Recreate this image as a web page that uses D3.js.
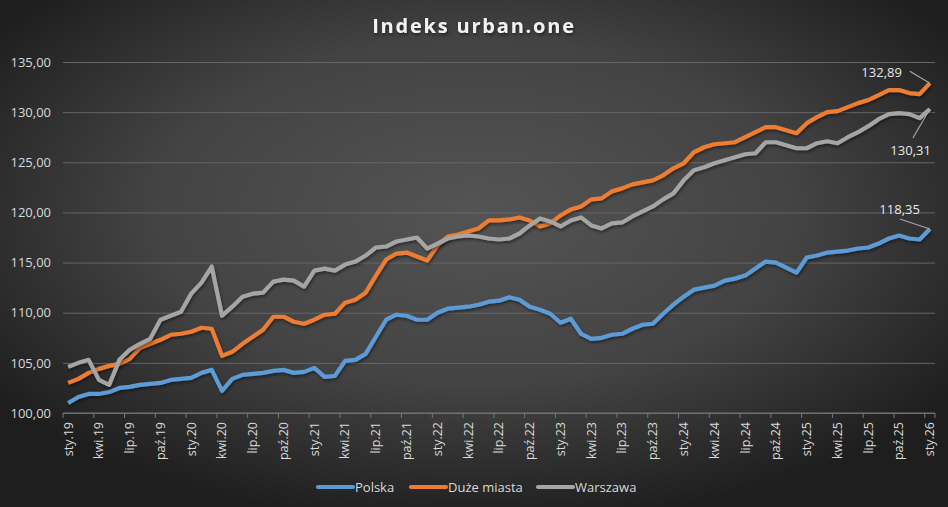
<!DOCTYPE html>
<html>
<head>
<meta charset="utf-8">
<script src="https://cdn.jsdelivr.net/npm/d3@7"></script>
<style>
  body { margin: 0; background: #2b2b2b; }
  text { font-family: "Open Sans", sans-serif; }
</style>
</head>
<body>
<div id="chart"></div>
<script>
// month abbreviations used for the category axis
const monthNames = ["sty","lut","mar","kwi","maj","cze","lip","sie","wrz","paź","lis","gru"];
const years = ["19","20","21","22","23","24","25","26"];

const polska = [101.0,101.6,101.9,101.9,102.1,102.5,102.6,102.8,102.9,103.0,
  103.3,103.4,103.5,104.0,104.3,102.2,103.4,103.8,103.9,104.0,
  104.2,104.3,104.0,104.1,104.5,103.6,103.7,105.2,105.3,105.9,
  107.6,109.3,109.8,109.7,109.3,109.3,110.0,110.4,110.5,110.6,
  110.8,111.1,111.2,111.55,111.3,110.6,110.3,109.9,109.0,109.4,
  107.9,107.4,107.5,107.8,107.9,108.4,108.8,108.9,109.9,110.8,
  111.6,112.3,112.5,112.7,113.2,113.4,113.7,114.4,115.1,115.0,
  114.5,114.0,115.5,115.7,116.0,116.1,116.2,116.4,116.5,116.9,
  117.4,117.7,117.4,117.3,118.35];

const duzeMiasta = [103.0,103.4,104.0,104.4,104.7,104.9,105.4,106.5,106.9,107.3,
  107.8,107.9,108.1,108.5,108.4,105.7,106.1,106.9,107.6,108.3,
  109.6,109.6,109.1,108.9,109.3,109.8,109.9,111.0,111.3,112.0,
  113.7,115.3,115.9,116.0,115.6,115.2,116.7,117.6,117.8,118.1,
  118.4,119.2,119.2,119.3,119.5,119.2,118.6,118.9,119.7,120.3,
  120.6,121.3,121.4,122.1,122.4,122.8,123.0,123.2,123.7,124.4,
  124.9,126.0,126.5,126.8,126.9,127.0,127.5,128.0,128.5,128.5,
  128.2,127.9,128.9,129.5,130.0,130.1,130.5,130.9,131.2,131.7,
  132.2,132.2,131.9,131.8,132.89];

const warszawa = [104.6,105.0,105.3,103.3,102.8,105.3,106.3,106.9,107.4,109.3,
  109.7,110.1,111.9,113.0,114.6,109.7,110.6,111.6,111.9,112.0,
  113.1,113.3,113.2,112.6,114.2,114.4,114.2,114.8,115.1,115.7,
  116.5,116.6,117.1,117.3,117.5,116.4,116.9,117.4,117.6,117.7,
  117.6,117.4,117.3,117.4,117.9,118.7,119.4,119.1,118.6,119.2,
  119.5,118.7,118.4,118.9,119.0,119.6,120.1,120.6,121.3,121.9,
  123.2,124.2,124.5,124.9,125.2,125.5,125.8,125.9,127.0,127.0,
  126.7,126.4,126.4,126.9,127.1,126.9,127.5,128.0,128.6,129.3,
  129.8,129.9,129.8,129.4,130.31];

const yTicks = [100,105,110,115,120,125,130,135];

// categories sty.19 ... sty.26
const categories = [];
years.forEach(y => monthNames.forEach(m => {
  if (categories.length < polska.length) categories.push(m + "." + y);
}));

const seriesList = [
  {name: "Polska", values: polska, color: "#5b9bd5", label: {dx: -10, dy: -20, lx: -30, ly: -10}},
  {name: "Duże miasta", values: duzeMiasta, color: "#ed7d31", label: {dx: -28, dy: -11, lx: -20, ly: -12}},
  {name: "Warszawa", values: warszawa, color: "#a5a5a5", label: {dx: 1, dy: 41, lx: -17, ly: 29}}
];

const W = 948, H = 507;
const margin = {top: 62, right: 13, bottom: 94, left: 63};

const svg = d3.select("#chart")
  .append("svg")
  .attr("width", W)
  .attr("height", H);

const defs = svg.append("defs");
const bg = defs.append("radialGradient")
  .attr("id", "bg")
  .attr("cx", "50%").attr("cy", "42%").attr("r", "62%");
bg.append("stop").attr("offset", "0%").attr("stop-color", "#545454");
bg.append("stop").attr("offset", "55%").attr("stop-color", "#434343");
bg.append("stop").attr("offset", "100%").attr("stop-color", "#1e1e1e");

const shadow = defs.append("filter").attr("id", "shadow")
  .attr("x", "-5%").attr("y", "-5%").attr("width", "110%").attr("height", "110%");
shadow.append("feDropShadow")
  .attr("dx", 1).attr("dy", 2).attr("stdDeviation", 1.5)
  .attr("flood-color", "#000").attr("flood-opacity", 0.45);

svg.append("rect")
  .attr("width", W).attr("height", H)
  .attr("fill", "url(#bg)");

// title
svg.append("text")
  .attr("x", W / 2)
  .attr("y", 33)
  .attr("text-anchor", "middle")
  .attr("fill", "#f2f2f2")
  .attr("font-size", 20)
  .attr("font-weight", "bold")
  .attr("letter-spacing", 1.8)
  .style("filter", "url(#shadow)")
  .text("Indeks urban.one");

const x = d3.scaleBand()
  .domain(categories)
  .range([margin.left, W - margin.right])
  .paddingInner(0).paddingOuter(0);

const y = d3.scaleLinear()
  .domain([100, 135])
  .range([H - margin.bottom, margin.top]);

const cx = c => x(c) + x.bandwidth() / 2;

// y axis with gridlines
svg.append("g")
  .attr("transform", `translate(${margin.left}, 0)`)
  .call(d3.axisLeft(y)
    .tickValues(yTicks)
    .tickSize(-(W - margin.left - margin.right))
    .tickPadding(12)
    .tickFormat(d => d3.format(".2f")(d).replace(".", ",")))
  .call(g => g.select(".domain").remove())
  .call(g => g.selectAll(".tick line").attr("stroke", "#666").attr("stroke-width", 1))
  .call(g => g.selectAll(".tick text")
    .attr("fill", "#d9d9d9")
    .attr("font-size", 13)
    .attr("font-family", "Open Sans, sans-serif"));

// x axis: labels every 3rd month, tick marks at band edges
const labelled = categories.filter((c, i) => i % 3 === 0);
const xAxis = svg.append("g")
  .attr("transform", `translate(0, ${y(100)})`);

xAxis.append("line")
  .attr("x1", margin.left).attr("x2", W - margin.right)
  .attr("stroke", "#777").attr("stroke-width", 1);

xAxis.selectAll(".tk")
  .data(labelled.map(c => x(c)).concat([W - margin.right]))
  .join("line")
  .attr("class", "tk")
  .attr("x1", d => d).attr("x2", d => d)
  .attr("y1", 0).attr("y2", 5)
  .attr("stroke", "#777");

xAxis.selectAll(".lbl")
  .data(labelled)
  .join("text")
  .attr("class", "lbl")
  .attr("transform", d => `translate(${cx(d)}, 9) rotate(-90)`)
  .attr("dy", "0.35em")
  .attr("text-anchor", "end")
  .attr("fill", "#d9d9d9")
  .attr("font-size", 12.5)
  .text(d => d);

// lines
const line = d3.line()
  .x((d, i) => cx(categories[i]))
  .y(d => y(d));

svg.append("g")
  .selectAll("path")
  .data(seriesList)
  .join("path")
  .attr("d", d => line(d.values))
  .attr("fill", "none")
  .attr("stroke", d => d.color)
  .attr("stroke-width", 4.2)
  .attr("stroke-linejoin", "round")
  .style("filter", "url(#shadow)");

// end value labels with leader lines
const last = categories.length - 1;
seriesList.forEach(s => {
  const px = cx(categories[last]);
  const py = y(s.values[last]);
  svg.append("line")
    .attr("x1", px).attr("y1", py)
    .attr("x2", px + s.label.lx).attr("y2", py + s.label.ly)
    .attr("stroke", "#a6a6a6").attr("stroke-width", 1.2);
  svg.append("text")
    .attr("x", px + s.label.dx)
    .attr("y", py + s.label.dy)
    .attr("text-anchor", "end")
    .attr("dy", "0.35em")
    .attr("fill", "#e6e6e6")
    .attr("font-size", 13)
    .text(d3.format(".2f")(s.values[last]).replace(".", ","));
});

// legend
const legendX = [318, 411, 538];
const legend = svg.append("g")
  .selectAll("g")
  .data(seriesList)
  .join("g")
  .attr("transform", (d, i) => `translate(${legendX[i]}, 487)`);

legend.append("line")
  .attr("x1", 0).attr("x2", 35)
  .attr("stroke", d => d.color)
  .attr("stroke-width", 4.2)
  .attr("stroke-linecap", "round");

legend.append("text")
  .attr("x", 37)
  .attr("dy", "0.35em")
  .attr("fill", "#d9d9d9")
  .attr("font-size", 13)
  .text(d => d.name);
</script>
</body>
</html>
